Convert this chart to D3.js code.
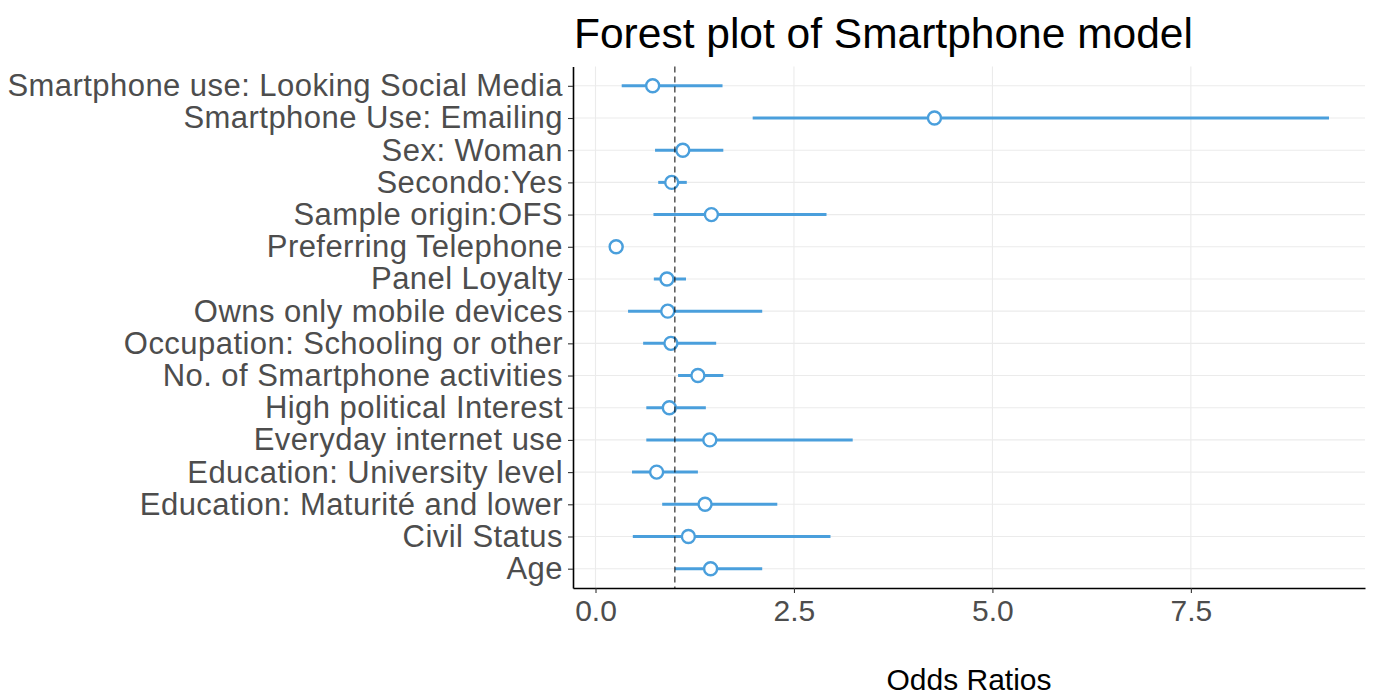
<!DOCTYPE html>
<html>
<head>
<meta charset="utf-8">
<script src="https://cdn.jsdelivr.net/npm/d3@7"></script>
<style>
  html, body { margin: 0; padding: 0; background: #ffffff; }
  svg { display: block; font-family: "Liberation Sans", Arial, Helvetica, sans-serif; }
</style>
</head>
<body>
<svg id="chart" width="1375" height="695"></svg>
<script>
// Predictors, top to bottom
const terms = [
  "Smartphone use: Looking Social Media",
  "Smartphone Use: Emailing",
  "Sex: Woman",
  "Secondo:Yes",
  "Sample origin:OFS",
  "Preferring Telephone",
  "Panel Loyalty",
  "Owns only mobile devices",
  "Occupation: Schooling or other",
  "No. of Smartphone activities",
  "High political Interest",
  "Everyday internet use",
  "Education: University level",
  "Education: Maturité and lower",
  "Civil Status",
  "Age"
];
// Odds ratios and 95% confidence bounds
const oddsRatio = [0.72, 4.27, 1.10, 0.96, 1.46, 0.26, 0.90, 0.91, 0.95, 1.29, 0.93, 1.44, 0.77, 1.38, 1.17, 1.45];
const ciLow     = [0.33, 1.98, 0.75, 0.79, 0.73, 0.17, 0.735, 0.41, 0.60, 1.04, 0.64, 0.64, 0.46, 0.84, 0.47, 1.00];
const ciHigh    = [1.60, 9.24, 1.61, 1.15, 2.91, 0.35, 1.14, 2.10, 1.52, 1.61, 1.39, 3.24, 1.29, 2.29, 2.96, 2.10];
const xTicks = [0, 2.5, 5, 7.5];
const refLine = 1;

const rows = terms.map((t, i) => ({ term: t, or: oddsRatio[i], lo: ciLow[i], hi: ciHigh[i] }));

const svg = d3.select("#chart");
const panel = { left: 573, right: 1365, top: 66.5, bottom: 588 };

// x domain: data range expanded by 5% on each side
const xmin = d3.min(ciLow), xmax = d3.max(ciHigh);
const pad = (xmax - xmin) * 0.05;
const x = d3.scaleLinear().domain([xmin - pad, xmax + pad]).range([panel.left, panel.right]);
const y = d3.scalePoint().domain(terms).range([panel.top, panel.bottom]).padding(0.6);

const blue = "#4a9fdc";

// grid
const grid = svg.append("g");
grid.selectAll("line.v").data(xTicks).join("line")
  .attr("x1", d => x(d)).attr("x2", d => x(d))
  .attr("y1", panel.top).attr("y2", panel.bottom)
  .attr("stroke", "#ebebeb").attr("stroke-width", 1.1);
grid.selectAll("line.h").data(terms).join("line")
  .attr("x1", panel.left).attr("x2", panel.right)
  .attr("y1", d => y(d)).attr("y2", d => y(d))
  .attr("stroke", "#ebebeb").attr("stroke-width", 1.1);

// confidence intervals
svg.append("g").selectAll("line").data(rows).join("line")
  .attr("x1", d => x(d.lo)).attr("x2", d => x(d.hi))
  .attr("y1", d => y(d.term)).attr("y2", d => y(d.term))
  .attr("stroke", blue).attr("stroke-width", 3);

// point estimates
svg.append("g").selectAll("circle").data(rows).join("circle")
  .attr("cx", d => x(d.or)).attr("cy", d => y(d.term))
  .attr("r", 6.5)
  .attr("fill", "#ffffff").attr("stroke", blue).attr("stroke-width", 2.4);

// reference line at OR = 1
svg.append("line")
  .attr("x1", x(refLine)).attr("x2", x(refLine))
  .attr("y1", panel.top).attr("y2", panel.bottom)
  .attr("stroke", "#000").attr("stroke-width", 1).attr("stroke-dasharray", "6,4");

// axes
const xAxis = svg.append("g").attr("transform", `translate(0,${panel.bottom})`)
  .call(d3.axisBottom(x).tickValues(xTicks).tickFormat(d3.format(".1f"))
    .tickSize(5).tickSizeOuter(0).tickPadding(7));
xAxis.select(".domain").attr("stroke", "#000").attr("stroke-width", 1.6);
xAxis.selectAll(".tick line").attr("stroke", "#333").attr("stroke-width", 1.1);
xAxis.selectAll(".tick text").attr("fill", "#4d4d4d").attr("font-size", 30)
  .attr("font-family", "Liberation Sans, Arial, sans-serif");

const yAxis = svg.append("g").attr("transform", `translate(${panel.left},0)`)
  .call(d3.axisLeft(y).tickSize(5).tickSizeOuter(0).tickPadding(5));
yAxis.select(".domain").attr("stroke", "#000").attr("stroke-width", 1.6);
yAxis.selectAll(".tick line").attr("stroke", "#333").attr("stroke-width", 1.1);
yAxis.selectAll(".tick text").attr("fill", "#4d4d4d").attr("font-size", 31)
  .attr("letter-spacing", "0.45px")
  .attr("font-family", "Liberation Sans, Arial, sans-serif");

// titles
svg.append("text")
  .attr("x", panel.left + 1).attr("y", 48)
  .attr("font-size", 42.5).attr("fill", "#000")
  .text("Forest plot of Smartphone model");

svg.append("text")
  .attr("x", (panel.left + panel.right) / 2).attr("y", 690)
  .attr("text-anchor", "middle")
  .attr("font-size", 30).attr("fill", "#000")
  .text("Odds Ratios");
</script>
</body>
</html>
